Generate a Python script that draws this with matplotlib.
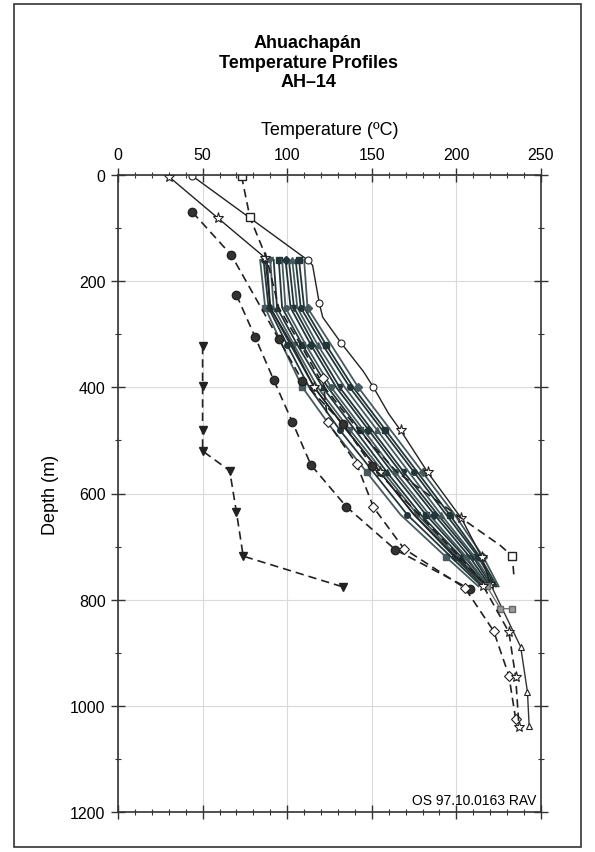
import numpy as np
import matplotlib
matplotlib.use("Agg")
import matplotlib.pyplot as plt
from matplotlib.patches import Rectangle

plt.rcParams['font.family'] = ['Liberation Sans', 'DejaVu Sans']

# depth nodes shared by the dense bundle of surveys (m)
bundle_depth = [160, 250, 320, 400, 480, 560, 640, 720, 775]
bundle_temps = [
    [84, 87, 97, 109, 127, 147, 167, 194, 213],
    [86, 89, 100, 113, 131, 151, 171, 197, 215],
    [88, 90, 102, 116, 135, 155, 175, 199, 216],
    [90, 92, 104, 118, 137, 157, 177, 201, 217],
    [92, 94, 106, 121, 140, 159, 179, 203, 218],
    [95, 97, 109, 124, 143, 162, 182, 205, 219],
    [97, 99, 111, 126, 145, 164, 184, 206, 219],
    [99, 102, 114, 129, 148, 167, 187, 208, 220],
    [101, 104, 116, 131, 150, 169, 189, 210, 221],
    [103, 106, 118, 134, 153, 172, 191, 211, 222],
    [105, 108, 121, 137, 156, 175, 194, 213, 223],
    [107, 110, 123, 139, 158, 177, 196, 214, 224],
    [110, 112, 126, 142, 161, 180, 199, 216, 225],
]
bundle_markers = ['s', 'o', 'D', 'v', '^', 's', 'o', 'D', 'v', '^', 'o', 's', 'D']

# individual surveys (temperature degC, depth m)
tri_t = [50, 50, 50, 50, 66, 70, 74, 133]
tri_d = [322, 397, 480, 520, 557, 635, 718, 776]

circa_t = [70, 81, 92, 103, 114, 135, 164, 208]
circa_d = [226, 305, 386, 465, 546, 625, 706, 780]

circb_t = [44, 67, 95, 109, 133, 150, 178, 205, 218]
circb_d = [70, 151, 309, 388, 469, 548, 640, 730, 775]

sq_t = [73, 78, 88, 95, 108, 122, 142, 165, 200, 226, 233, 234]
sq_d = [2, 80, 158, 250, 320, 400, 480, 560, 640, 698, 718, 755]

star_t = [30, 59, 87, 90, 103, 116, 135, 155, 175, 200, 218]
star_d = [3, 81, 156, 250, 320, 400, 480, 560, 640, 720, 775]

hot_t = [44, 112, 115, 119, 121, 132, 145, 151, 160, 167, 183, 203, 215, 220]
hot_d = [2, 160, 170, 242, 268, 317, 370, 400, 450, 481, 560, 647, 720, 770]

dia_t = [121, 124, 141, 151, 169, 205, 222, 231, 235]
dia_d = [383, 466, 544, 626, 704, 778, 859, 943, 1024]

star2_t = [216, 231, 235, 237]
star2_d = [775, 861, 945, 1040]

triup_t = [220, 238, 242, 243]
triup_d = [770, 889, 974, 1038]

gray_t = [218, 226, 233]
gray_d = [775, 817, 817]

fig = plt.figure(figsize=(5.95, 8.53), dpi=100)
fig.patches.append(Rectangle((14 / 595, 1 - 848 / 853), 567 / 595, 843 / 853,
                             transform=fig.transFigure, fill=False,
                             edgecolor='#333333', lw=1.2))
ax = fig.add_axes([118 / 595, 1 - 813 / 853, 423 / 595, 637 / 853])

dark = '#22363a'
mid = '#465a5d'

for i, temps in enumerate(bundle_temps):
    col = dark if i % 3 else mid
    every = [0, 2, 4, 6] if i % 2 else [1, 3, 5, 7]
    ax.plot(temps, bundle_depth, '-', color=col, lw=1.3,
            marker=bundle_markers[i], ms=4, mfc=col, mec=col,
            markevery=every)

ax.plot(star_t, star_d, '-', color='#222222', lw=1.0, marker='*', ms=8,
        mfc='white', mec='#222222', mew=0.8, markevery=[0, 1, 2, 5, 7])
ax.plot(hot_t, hot_d, '-', color='#222222', lw=1.0, marker='o', ms=5,
        mfc='white', mec='#222222', mew=0.8, markevery=[0, 1, 3, 5, 7])
ax.plot(hot_t[9:], hot_d[9:], 'none', marker='*', ms=8, mfc='white',
        mec='#222222', mew=0.8)
ax.plot(triup_t, triup_d, '-', color='#333333', lw=1.0, marker='^', ms=5,
        mfc='white', mec='#222222', mew=0.8)
ax.plot(gray_t, gray_d, '-', color='#777777', lw=1.0, marker='s', ms=5,
        mfc='#999999', mec='#666666')

dash = (0, (5, 3))
ax.plot(tri_t, tri_d, color='#222222', ls=dash, lw=1.2, marker='v', ms=6,
        mfc='#222222', mec='#222222')
ax.plot(circa_t, circa_d, color='#222222', ls=dash, lw=1.2, marker='o', ms=6,
        mfc='#333333', mec='#222222')
ax.plot(circb_t, circb_d, color='#222222', ls=dash, lw=1.2, marker='o', ms=6,
        mfc='#333333', mec='#222222', markevery=[0, 1, 2, 3, 4, 5])
ax.plot(sq_t, sq_d, color='#222222', ls=dash, lw=1.2, marker='s', ms=6,
        mfc='white', mec='#222222', markevery=[0, 1, 10])
ax.plot(dia_t, dia_d, color='#222222', ls=dash, lw=1.2, marker='D', ms=5,
        mfc='white', mec='#222222', mew=0.8)
ax.plot(star2_t, star2_d, color='#222222', ls=dash, lw=1.2, marker='*', ms=8,
        mfc='white', mec='#222222', mew=0.8)

ax.set_xlim(0, 250)
ax.set_ylim(1200, 0)
ax.set_xticks(np.arange(0, 251, 50))
ax.set_xticks(np.arange(0, 251, 10), minor=True)
ax.set_yticks(np.arange(0, 1201, 200))
ax.set_yticks(np.arange(0, 1201, 100), minor=True)
ax.grid(True, which='major', color='#dadada', lw=0.8)
ax.set_axisbelow(True)
ax.tick_params(which='both', top=True, bottom=True, left=True, right=True,
               labeltop=True, labelbottom=False, labelleft=True,
               labelright=False, direction='inout', color='#333333')
ax.tick_params(which='major', length=10, width=1.0, labelsize=11.5, pad=4)
ax.tick_params(which='minor', length=5, width=0.8)
for s in ax.spines.values():
    s.set_color('#333333')
    s.set_linewidth(1.2)

ax.xaxis.set_label_position('top')
ax.set_xlabel('Temperature (ºC)', fontsize=13, labelpad=10)
ax.set_ylabel('Depth (m)', fontsize=13, labelpad=8)

fig.text(308 / 595, 1 - 63 / 853, 'Ahuachapán\nTemperature Profiles\nAH–14',
         ha='center', va='center', fontsize=13, fontweight='bold',
         linespacing=1.2)
ax.text(0.99, 0.008, 'OS 97.10.0163 RAV', transform=ax.transAxes,
        ha='right', va='bottom', fontsize=10)

fig.savefig('out.png', dpi=100)
